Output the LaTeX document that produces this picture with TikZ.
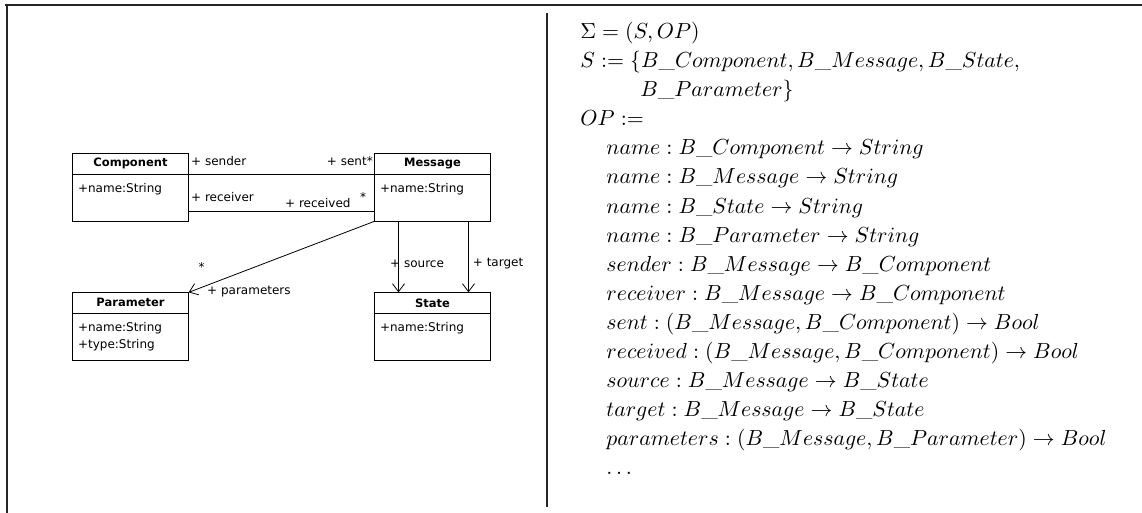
\documentclass[tikz,border=0pt]{standalone}
\usepackage{fontspec}
\newfontfamily\umlfont{DejaVu Sans}
\usetikzlibrary{arrows.meta,positioning,calc}

\tikzset{
  cls/.style={draw, line width=0.8pt, minimum width=115.5pt, minimum height=67.5pt, inner sep=0pt},
  hdr/.style={font=\umlfont\bfseries\fontsize{11.5}{13}\selectfont, inner sep=0pt},
  attr/.style={font=\umlfont\fontsize{12}{13}\selectfont, anchor=west, inner sep=0pt},
  role/.style={font=\umlfont\fontsize{12}{13}\selectfont, inner sep=0pt},
  assoc/.style={line width=0.8pt},
  nav/.style={line width=0.8pt, -{Straight Barb[length=8pt,width=12pt,line width=0.8pt]}},
  frame/.style={line width=2.6pt, color=black!85},
  sig/.style={scale=2.18, transform shape, anchor=base west, inner sep=0pt}
}

\begin{document}
\begin{tikzpicture}[x=1pt, y=-1pt]
\useasboundingbox (0,0) rectangle (1142,513);

% frame
\draw[frame] (5,5) -- (1142,5);
\draw[frame] (7,5) -- (7,513);
\draw[frame] (547,13) -- (547,507);

% classes
\node[cls] (comp) at (130.5,187.2) {};
\node[cls] (msg) at (432.5,187.2) {};
\node[cls] (par) at (130.5,326.5) {};
\node[cls] (st) at (432.5,326.5) {};
\foreach \c in {comp,msg,par,st} {
    \draw[assoc] ([yshift=-21pt]\c.north west) -- ([yshift=-21pt]\c.north east);
}
\node[hdr] (comphdr) at ([yshift=-10.5pt]comp.north) {Component};
\node[hdr] (msghdr) at ([yshift=-10.5pt]msg.north) {Message};
\node[hdr] (parhdr) at ([yshift=-10.5pt]par.north) {Parameter};
\node[hdr] (sthdr) at ([yshift=-10.5pt]st.north) {State};

\node[attr] (compname) at ([xshift=5.5pt,yshift=-36pt]comp.north west) {+name:String};
\node[attr] (msgname) at ([xshift=5.5pt,yshift=-36pt]msg.north west) {+name:String};
\node[attr] (parname) at ([xshift=5.5pt,yshift=-36pt]par.north west) {+name:String};
\node[attr] (partype) at ([xshift=5.5pt,yshift=-53pt]par.north west) {+type:String};
\node[attr] (stname) at ([xshift=5.5pt,yshift=-36pt]st.north west) {+name:String};

% associations
\draw[assoc] ([yshift=-21pt]comp.north east) -- ([yshift=-21pt]msg.north west);
\draw[assoc] ([yshift=10pt]comp.south east) -- ([yshift=10pt]msg.south west);
\draw[nav] (msg.south west) -- (par.north east);
\draw[nav] ([xshift=-34pt]msg.south) -- ([xshift=-34pt]st.north);
\draw[nav] ([xshift=36pt]msg.south) -- ([xshift=36pt]st.north);

\node[role, anchor=west] (sender) at (191,161) {+ sender};
\node[role, anchor=east] (sent) at (373,161) {+ sent*};
\node[role, anchor=west] (receiver) at (191,196.7) {+ receiver};
\node[role, anchor=west] (received) at (285,202.7) {+ received};
\node[role] (rcvmult) at (363,196.7) {*};
\node[role] (parmult) at (201.7,267) {*};
\node[role, anchor=west] (parameters) at (207,291.7) {+ parameters};
\node[role, anchor=west] (source) at (390,264) {+ source};
\node[role, anchor=west] (target) at (472.7,264) {+ target};

% signature
\node[sig] (sigma) at (580,39) {$\Sigma = (S, OP)$};
\node[sig] (sorts) at (580,68) {$S := \{B\_Component, B\_Message, B\_State,$};
\node[sig] (sorts2) at (640,97) {$B\_Parameter\}$};
\node[sig] (ops) at (580,126) {$OP :=$};
\node[sig] (op1) at (606,155) {$name : B\_Component \rightarrow String$};
\node[sig] (op2) at (606,184) {$name : B\_Message \rightarrow String$};
\node[sig] (op3) at (606,213) {$name : B\_State \rightarrow String$};
\node[sig] (op4) at (606,242) {$name : B\_Parameter \rightarrow String$};
\node[sig] (op5) at (606,271) {$sender : B\_Message \rightarrow B\_Component$};
\node[sig] (op6) at (606,300) {$receiver : B\_Message \rightarrow B\_Component$};
\node[sig] (op7) at (606,329) {$sent : (B\_Message, B\_Component) \rightarrow Bool$};
\node[sig] (op8) at (606,358) {$received : (B\_Message, B\_Component) \rightarrow Bool$};
\node[sig] (op9) at (606,387) {$source : B\_Message \rightarrow B\_State$};
\node[sig] (op10) at (606,416) {$target : B\_Message \rightarrow B\_State$};
\node[sig] (op11) at (606,445) {$parameters : (B\_Message, B\_Parameter) \rightarrow Bool$};
\node[sig] (dots) at (606,474) {$\ldots$};
\end{tikzpicture}
\end{document}
